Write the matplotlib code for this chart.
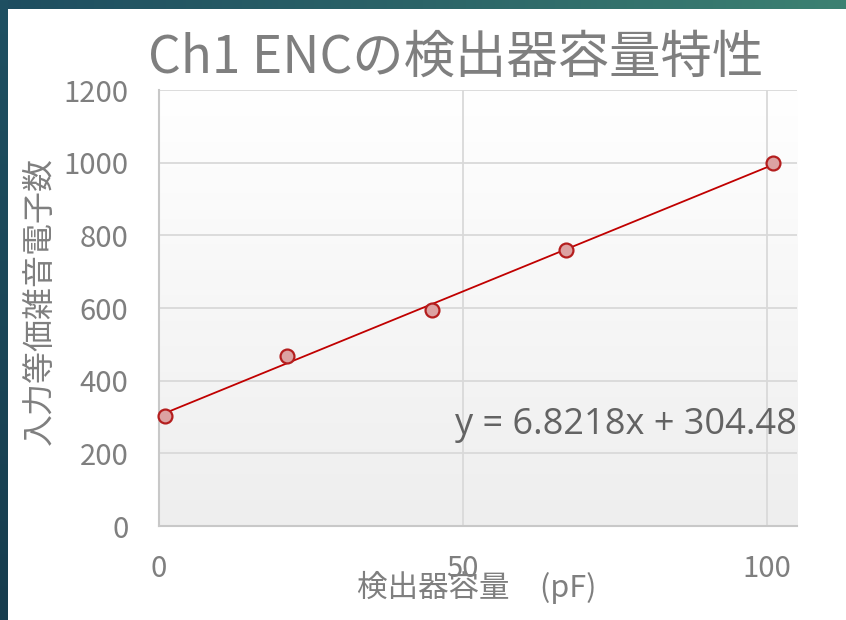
import numpy as np
import matplotlib
matplotlib.use("Agg")
import matplotlib.pyplot as plt
from matplotlib.colors import LinearSegmentedColormap

plt.rcParams["font.family"] = ["Noto Sans CJK JP", "DejaVu Sans"]

# detector capacitance (pF) vs equivalent noise charge (electrons)
capacitance = [1, 21, 45, 67, 101]
enc = [304, 468, 595, 760, 998]
x_ticks = [0, 50, 100]
y_ticks = [0, 200, 400, 600, 800, 1000, 1200]

TITLE = "Ch1 ENCの検出器容量特性"
X_LABEL = "検出器容量\u3000(pF)"
Y_LABEL = "入力等価雑音電子数"
EQUATION = "y = 6.8218x + 304.48"

TEXT_GRAY = "#7f7f7f"
LABEL_GRAY = "#636363"
GRID = "#d9d9d9"
RED = "#c00000"

fig = plt.figure(figsize=(8.46, 6.2), dpi=100)
fig.patch.set_facecolor("white")

# slide frame: teal bands on top and left
bg = fig.add_axes([0, 0, 1, 1], zorder=-5)
bg.set_xlim(0, 846)
bg.set_ylim(620, 0)
bg.axis("off")
top_cmap = LinearSegmentedColormap.from_list("top", ["#1e4d60", "#2c6468", "#3c8172"])
left_cmap = LinearSegmentedColormap.from_list("left", ["#1f5062", "#173d4e"])
bg.imshow(np.linspace(0, 1, 256)[None, :], extent=(0, 846, 9, 0), aspect="auto",
          cmap=top_cmap, interpolation="bilinear")
bg.imshow(np.linspace(0, 1, 256)[:, None], extent=(0, 8, 620, 0), aspect="auto",
          cmap=left_cmap, interpolation="bilinear")

ax = fig.add_axes([159 / 846, 1 - 526 / 620, (797 - 159) / 846, (526 - 90) / 620])

# plot area: white at the top fading to light grey
area_cmap = LinearSegmentedColormap.from_list("area", ["#ffffff", "#eeeeee"])
ax.imshow(np.linspace(0, 1, 256)[:, None], extent=(0, 105, 0, 1200), aspect="auto",
          cmap=area_cmap, interpolation="bilinear", zorder=0)
ax.set_xlim(0, 105)
ax.set_ylim(0, 1200)

ax.set_xticks(x_ticks)
ax.set_yticks(y_ticks)
ax.grid(True, color=GRID, lw=1.3, zorder=1)
ax.set_axisbelow(True)
for side in ("top", "right"):
    ax.spines[side].set_visible(False)
for side in ("left", "bottom"):
    ax.spines[side].set_color("#c8c8c8")
    ax.spines[side].set_linewidth(1.5)
ax.tick_params(length=0, labelsize=21, labelcolor=TEXT_GRAY)
ax.tick_params(axis="y", pad=22)
ax.tick_params(axis="x", pad=20)

# linear trendline
slope, intercept = np.polyfit(capacitance, enc, 1)
fit_x = np.array([min(capacitance), max(capacitance)])
ax.plot(fit_x, slope * fit_x + intercept, color=RED, lw=1.3, zorder=3)
ax.plot(capacitance, enc, ls="none", marker="o", ms=10, mfc="#dca2a2",
        mec="#b41e1e", mew=1.6, zorder=4, clip_on=False)

ax.text(1.0, 0.232, EQUATION, transform=ax.transAxes, ha="right", va="center",
        fontsize=26, color=LABEL_GRAY, family=["Open Sans", "DejaVu Sans"], zorder=5)

fig.text(0.539, 0.906, TITLE, ha="center", va="center", fontsize=37, color=TEXT_GRAY)
fig.text(0.047, 0.5145, Y_LABEL, ha="center", va="center", rotation=90,
         fontsize=23, color=TEXT_GRAY)
fig.text(0.563, 0.052, X_LABEL, ha="center", va="center", fontsize=22, color=TEXT_GRAY)

fig.savefig("out.png", dpi=100)
